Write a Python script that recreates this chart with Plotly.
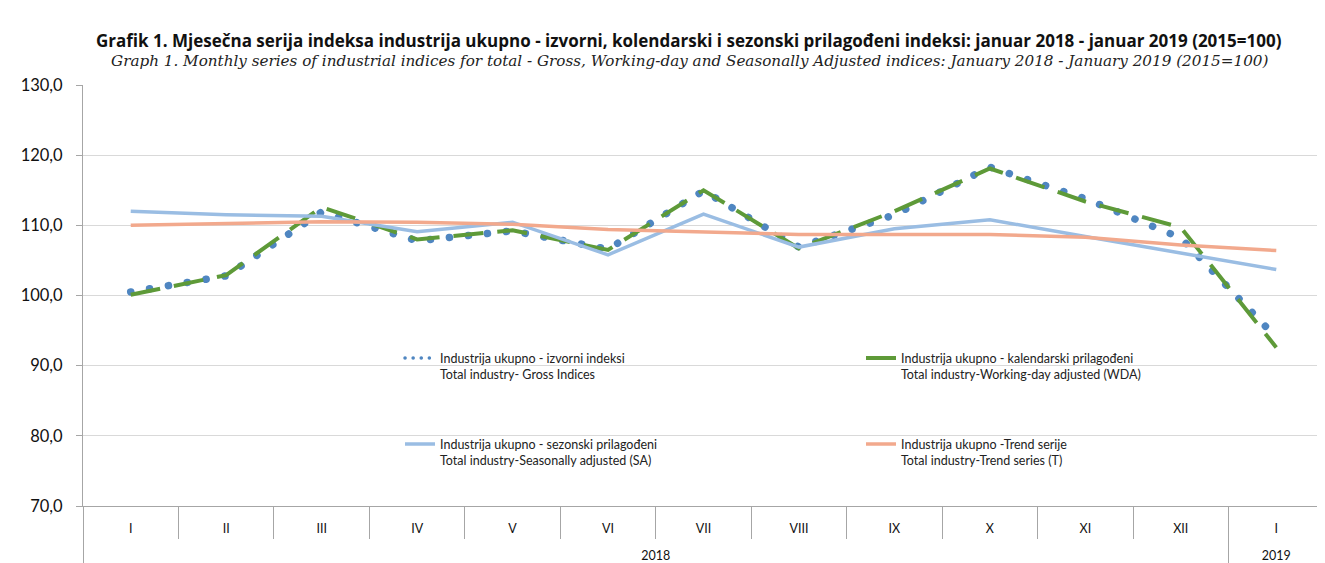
import plotly.graph_objects as go

# ---- data ----
years = ["2018"] * 12 + ["2019"]
months = ["I", "II", "III", "IV", "V", "VI", "VII", "VIII", "IX", "X", "XI", "XII", "I"]
gross = [100.5, 102.8, 111.9, 107.8, 109.2, 106.6, 114.9, 106.9, 111.5, 118.3, 113.8, 108.2, 94.0]
wda = [100.1, 102.9, 112.6, 108.0, 109.3, 106.5, 115.0, 106.7, 112.0, 118.1, 113.4, 109.7, 92.6]
sa = [112.0, 111.5, 111.3, 109.1, 110.45, 105.8, 111.6, 106.9, 109.5, 110.8, 108.4, 106.1, 103.7]
trend = [110.0, 110.3, 110.5, 110.45, 110.15, 109.4, 109.0, 108.7, 108.7, 108.7, 108.3, 107.2, 106.4]

names = [
    "Industrija ukupno - izvorni indeksi<br>Total industry- Gross Indices",
    "Industrija ukupno - kalendarski prilagođeni<br>Total industry-Working-day adjusted (WDA)",
    "Industrija ukupno - sezonski prilagođeni<br>Total industry-Seasonally adjusted (SA)",
    "Industrija ukupno -Trend serije<br>Total industry-Trend series (T)",
]

title_bs = ("Grafik 1. Mjesečna serija indeksa industrija ukupno - izvorni, kolendarski i sezonski "
            "prilagođeni indeksi: januar 2018 - januar 2019 (2015=100)")
title_en = ("Graph 1. Monthly series of industrial indices for total - Gross, Working-day and "
            "Seasonally Adjusted indices: January 2018 - January 2019 (2015=100)")

# unique category keys (month + year), displayed with month labels
cats = [m + "." + y for m, y in zip(months, years)]
n = len(cats)

# year groups: label centres and divider boundaries
year_names = []
for y in years:
    if y not in year_names:
        year_names.append(y)
year_centres = []
dividers = [-0.5]
for yn in year_names:
    idx = [i for i, y in enumerate(years) if y == yn]
    year_centres.append((idx[0] + idx[-1]) / 2)
    dividers.append(idx[-1] + 0.5)

FONT = "Lato"
GRAY = "#A6A6A6"

fig = go.Figure()
fig.add_trace(go.Scatter(x=cats, y=gross, mode="lines", name=names[0],
                         line=dict(color="#4F86C1", width=7.5, dash="0.1px,19px"),
                         legend="legend"))
fig.add_trace(go.Scatter(x=cats, y=wda, mode="lines", name=names[1],
                         line=dict(color="#5E9A38", width=4, dash="30px,14px"),
                         legend="legend"))
fig.add_trace(go.Scatter(x=cats, y=sa, mode="lines", name=names[2],
                         line=dict(color="#9ABDE3", width=3.5),
                         legend="legend2"))
fig.add_trace(go.Scatter(x=cats, y=trend, mode="lines", name=names[3],
                         line=dict(color="#F2A98D", width=3.5),
                         legend="legend2"))
# empty helper trace so the year axis (x2) is rendered
fig.add_trace(go.Scatter(x=year_centres, y=[None] * len(year_centres), xaxis="x2",
                         mode="lines", showlegend=False, hoverinfo="skip"))

legend_common = dict(orientation="h", xanchor="left", yanchor="top",
                     bgcolor="rgba(0,0,0,0)", font=dict(family=FONT, size=12.5, color="#222"),
                     entrywidth=416, entrywidthmode="pixels", valign="top",
                     itemclick=False, itemdoubleclick=False)

# figure is drawn inside the page's 8px body margin
W, H = 1317, 555
ML, MR, MT, MB = 75, 1, 77, 57
PW, PH = W - ML - MR, H - MT - MB


def px_x(x):
    return (x - ML) / PW


def px_y(y):
    return (H - MB - y) / PH


fig.update_layout(
    width=W, height=H,
    margin=dict(l=ML, r=MR, t=MT, b=MB, autoexpand=False),
    paper_bgcolor="white", plot_bgcolor="white",
    separators=", ",
    showlegend=True,
    legend=dict(x=px_x(392), y=0.386, **legend_common),
    legend2=dict(x=px_x(392), y=0.182, **legend_common),
    annotations=[
        dict(text="<b>" + title_bs + "</b>", x=px_x(681), y=px_y(32), xref="paper", yref="paper",
             xanchor="center", yanchor="middle", showarrow=False,
             font=dict(family="Open Sans", size=17, color="#111")),
        dict(text="<i>" + title_en + "</i>", x=px_x(681), y=px_y(53), xref="paper", yref="paper",
             xanchor="center", yanchor="middle", showarrow=False,
             font=dict(family="DejaVu Serif", size=15.2, color="#222")),
    ],
)

fig.update_yaxes(range=[70, 130], dtick=10, tickformat=".1f",
                 showgrid=True, gridcolor="#D9D9D9", gridwidth=1,
                 showline=True, linecolor=GRAY, linewidth=1,
                 ticks="outside", ticklen=6, tickcolor=GRAY,
                 ticklabelstandoff=10, automargin=False,
                 zeroline=False, tickfont=dict(family=FONT, size=16.5, color="#111"))

fig.update_layout(
    xaxis=dict(type="category", range=[-0.5, n - 0.5],
               tickmode="array", tickvals=cats, ticktext=months,
               tickson="boundaries", ticks="outside", ticklen=32, tickcolor=GRAY,
               ticklabelstandoff=11,
               showgrid=False, showline=True, linecolor=GRAY, linewidth=1,
               automargin=False, tickfont=dict(family=FONT, size=12.5, color="#111")),
    xaxis2=dict(overlaying="x", anchor="y", side="bottom", type="linear",
                range=[-0.5, n - 0.5],
                tickmode="array", tickvals=year_centres, ticktext=year_names,
                ticks="", ticklabelstandoff=40,
                minor=dict(tickmode="array", tickvals=dividers, ticks="outside",
                           ticklen=57, tickcolor=GRAY, tickwidth=1, showgrid=False),
                showgrid=False, showline=False, zeroline=False, automargin=False,
                tickfont=dict(family=FONT, size=12.5, color="#111")),
)

post = """
document.querySelectorAll('path.js-line').forEach(function(e){
  var d = e.style.strokeDasharray || '';
  if (d.indexOf('0.1') === 0) {
    e.style.strokeLinecap = 'round';
    if (e.closest('.legend')) { e.style.strokeWidth = '3.5px'; e.style.strokeDasharray = '0.1px,8px'; }
  }
});
"""
fig.write_html("out.html", post_script=post)
